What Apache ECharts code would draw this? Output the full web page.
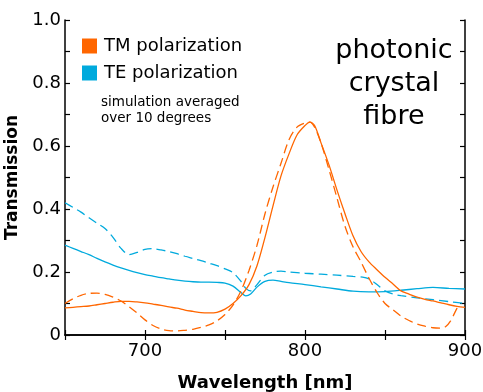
<!DOCTYPE html>
<html>
<head>
<meta charset="utf-8">
<script src="https://cdn.jsdelivr.net/npm/echarts@6/dist/echarts.min.js"></script>
<style>
  html, body { margin: 0; padding: 0; background: #fff; }
  #chart { width: 483px; height: 392px; }
</style>
</head>
<body>
<div id="chart"></div>
<script>
// measured TM (solid orange)
const tmWl = [650,655,660,665,670,675,680,685,690,695,700,705,710,715,720,725,730,735,740,745,750,755,760,765,770,775,780,785,790,795,800,803,806,810,815,820,825,830,835,840,845,850,855,860,865,870,875,880,885,890,895,900]
const tmMeas = [0.086,0.088,0.090,0.092,0.096,0.100,0.104,0.107,0.107,0.105,0.102,0.098,0.094,0.089,0.085,0.079,0.075,0.071,0.070,0.072,0.082,0.100,0.125,0.160,0.220,0.310,0.410,0.505,0.575,0.635,0.665,0.676,0.665,0.610,0.540,0.460,0.385,0.315,0.265,0.232,0.207,0.183,0.162,0.140,0.130,0.120,0.113,0.108,0.102,0.096,0.091,0.088]

// simulated TM (dashed orange)
const tmSimWl = [650,655,660,665,670,675,680,685,690,695,700,705,710,715,720,725,730,735,740,745,750,755,760,765,770,775,780,785,790,795,800,803,806,810,815,820,825,830,835,840,845,850,855,860,865,870,875,880,885,888,891,894,896]
const tmSim = [0.100,0.115,0.126,0.132,0.133,0.129,0.120,0.108,0.090,0.070,0.048,0.030,0.019,0.014,0.013,0.015,0.018,0.024,0.032,0.045,0.065,0.095,0.140,0.205,0.285,0.385,0.470,0.545,0.620,0.660,0.673,0.676,0.660,0.610,0.525,0.435,0.345,0.280,0.232,0.180,0.135,0.100,0.080,0.060,0.046,0.035,0.028,0.023,0.022,0.027,0.045,0.075,0.095]

// measured TE (solid blue)
const teWl = [650,655,660,665,670,675,680,685,690,695,700,705,710,715,720,725,730,735,740,745,750,755,760,763,766,770,775,780,785,790,800,810,820,830,840,850,860,870,880,890,900]
const teMeas = [0.285,0.275,0.265,0.255,0.243,0.232,0.222,0.213,0.205,0.198,0.192,0.187,0.182,0.178,0.174,0.171,0.169,0.168,0.168,0.167,0.165,0.155,0.135,0.124,0.130,0.152,0.170,0.174,0.170,0.166,0.160,0.153,0.146,0.139,0.137,0.138,0.142,0.147,0.151,0.148,0.146]

// simulated TE (dashed blue)
const teSimWl = [650,655,660,665,670,675,680,685,690,695,700,705,710,715,720,725,730,735,740,745,750,755,760,763,766,770,775,780,785,790,800,810,820,830,836,840,845,850,855,860,870,880,890,900]
const teSim = [0.420,0.405,0.390,0.372,0.355,0.338,0.310,0.275,0.255,0.262,0.272,0.274,0.270,0.265,0.258,0.250,0.243,0.236,0.228,0.220,0.210,0.198,0.170,0.148,0.140,0.160,0.190,0.200,0.203,0.200,0.196,0.193,0.190,0.186,0.184,0.178,0.160,0.140,0.130,0.125,0.118,0.112,0.106,0.100]

const xLabels = [700, 800, 900]
const yLabels = [0, 0.2, 0.4, 0.6, 0.8, 1.0]

const ORANGE = '#ff6600'
const BLUE = '#00aadd'
const FONT = 'DejaVu Sans'

const zip = (xs, ys) => xs.map((x, i) => [x, ys[i]])

const chart = echarts.init(document.getElementById('chart'), null, { renderer: 'canvas' })

const axisLine = { show: true, lineStyle: { color: '#000', width: 1.5 } }
const tick = { show: true, inside: true, length: 5, lineStyle: { color: '#000', width: 1.2 } }

const line = (name, data, color, dashed, z) => ({
  type: 'line',
  name,
  data,
  symbol: 'none',
  smooth: 0.3,
  z,
  itemStyle: { color },
  lineStyle: { color, width: 1.3, type: dashed ? [9, 5] : 'solid' },
  emphasis: { disabled: true }
})

const option = {
  animation: false,
  textStyle: { fontFamily: FONT },
  grid: { left: 65, right: 18, top: 20, bottom: 57, outerBoundsMode: 'none', containLabel: false },
  legend: {
    data: ['TM polarization', 'TE polarization'],
    orient: 'vertical',
    left: 82,
    top: 37,
    padding: 0,
    icon: 'rect',
    itemWidth: 15,
    itemHeight: 15,
    itemGap: 9,
    textStyle: { fontFamily: FONT, fontSize: 18, color: '#000', padding: [0, 0, 0, 2] }
  },
  xAxis: [{
    type: 'value',
    min: 650,
    max: 900,
    interval: 50,
    name: 'Wavelength [nm]',
    nameLocation: 'middle',
    nameGap: 39,
    nameTextStyle: { fontFamily: FONT, fontSize: 18, fontWeight: 'bold', color: '#000' },
    axisLine,
    axisTick: tick,
    splitLine: { show: false },
    axisLabel: {
      fontFamily: FONT, fontSize: 18, color: '#000', margin: 7,
      formatter: v => xLabels.includes(v) ? String(v) : ''
    }
  }, {
    type: 'value', position: 'top', min: 650, max: 900, interval: 50,
    axisLine, axisTick: tick, axisLabel: { show: false }, splitLine: { show: false }
  }],
  yAxis: [{
    type: 'value',
    min: 0,
    max: 1,
    interval: 0.1,
    name: 'Transmission',
    nameLocation: 'middle',
    nameGap: 39,
    nameTextStyle: { fontFamily: FONT, fontSize: 17, fontWeight: 'bold', color: '#000' },
    axisLine,
    axisTick: tick,
    splitLine: { show: false },
    axisLabel: {
      fontFamily: FONT, fontSize: 18, color: '#000', margin: 4,
      formatter: v => {
        const r = Math.round(v * 10) / 10
        if (!yLabels.some(l => Math.abs(l - r) < 1e-6)) return ''
        return r === 0 ? '0' : r.toFixed(1)
      }
    }
  }, {
    type: 'value', position: 'right', min: 0, max: 1, interval: 0.1,
    axisLine, axisTick: tick, axisLabel: { show: false }, splitLine: { show: false }
  }],
  graphic: [
    {
      type: 'text', x: 101, y: 94,
      style: { text: 'simulation averaged\nover 10 degrees', font: '13.5px "DejaVu Sans"', fill: '#000', lineHeight: 16 }
    },
    {
      type: 'text', x: 394, y: 34,
      style: { text: 'photonic\ncrystal\nfibre', font: '27px "DejaVu Sans"', fill: '#000', align: 'center', lineHeight: 33 }
    }
  ],
  series: [
    line('TE simulation', zip(teSimWl, teSim), BLUE, true, 2),
    line('TE polarization', zip(teWl, teMeas), BLUE, false, 3),
    line('TM simulation', zip(tmSimWl, tmSim), ORANGE, true, 4),
    line('TM polarization', zip(tmWl, tmMeas), ORANGE, false, 5)
  ]
}

chart.setOption(option)
</script>
</body>
</html>
